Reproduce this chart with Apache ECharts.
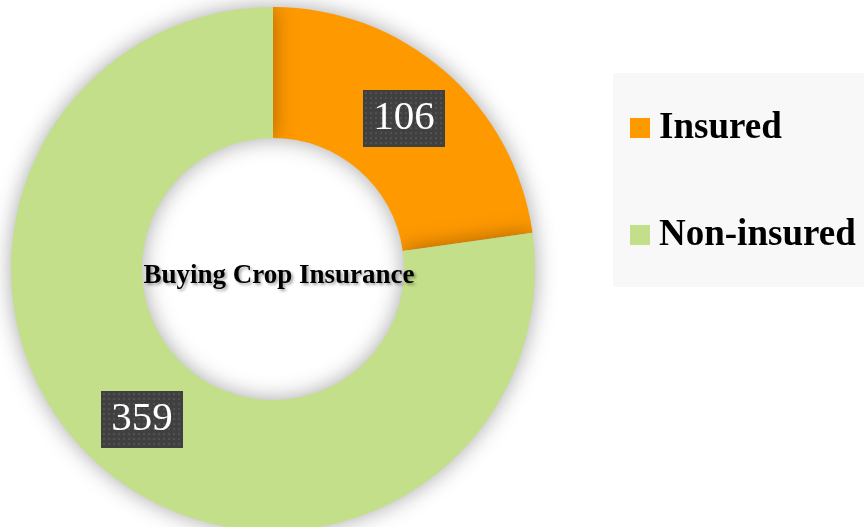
<!DOCTYPE html>
<html>
<head>
<meta charset="utf-8">
<script src="https://cdn.jsdelivr.net/npm/echarts@6/dist/echarts.min.js"></script>
<style>
  html, body { margin: 0; padding: 0; background: #fff; }
  #chart { width: 864px; height: 527px; }
</style>
</head>
<body>
<div id="chart"></div>
<script>
  var categories = ['Insured', 'Non-insured'];
  var counts = [106, 359];
  var colors = ['#FF9900', '#C3DF8A'];
  var centerTitle = 'Buying Crop Insurance';

  // dotted dark tile used behind the value labels
  function dotTile(w, h) {
    var c = document.createElement('canvas');
    c.width = w;
    c.height = h;
    var ctx = c.getContext('2d');
    ctx.fillStyle = '#404040';
    ctx.fillRect(0, 0, w, h);
    ctx.fillStyle = '#525252';
    for (var y = 2; y < h; y += 5) {
      for (var x = 2; x < w; x += 5) {
        ctx.fillRect(x, y, 2, 2);
      }
    }
    return c;
  }

  var tile = dotTile(82, 57);

  var pieData = [];
  for (var i = 0; i < categories.length; i++) {
    pieData.push({
      name: categories[i],
      value: counts[i],
      itemStyle: { color: colors[i] }
    });
  }

  var chart = echarts.init(document.getElementById('chart'));
  chart.setOption({
    animation: false,
    backgroundColor: '#ffffff',
    title: {
      text: centerTitle,
      left: 274,
      top: 271,
      textAlign: 'center',
      textVerticalAlign: 'middle',
      textStyle: {
        fontFamily: 'Liberation Serif',
        fontWeight: 'bold',
        fontSize: 27,
        color: '#000',
        textShadowColor: 'rgba(0,0,0,0.35)',
        textShadowBlur: 3,
        textShadowOffsetX: 2,
        textShadowOffsetY: 2
      }
    },
    legend: {
      orient: 'vertical',
      left: 613,
      top: 73,
      backgroundColor: '#f8f8f8',
      padding: [35, 10, 32, 17],
      icon: 'rect',
      itemWidth: 20,
      itemHeight: 20,
      itemGap: 67,
      selectedMode: false,
      textStyle: {
        fontFamily: 'Liberation Serif',
        fontWeight: 'bold',
        fontSize: 37,
        lineHeight: 40,
        color: '#000',
        padding: [0, 0, 0, 4]
      },
      data: categories
    },
    series: [{
      type: 'pie',
      center: [273, 269],
      radius: [131, 262],
      startAngle: 90,
      clockwise: true,
      avoidLabelOverlap: false,
      emphasis: { disabled: true },
      itemStyle: {
        shadowBlur: 22,
        shadowColor: 'rgba(0,0,0,0.35)',
        shadowOffsetX: 0,
        shadowOffsetY: 0
      },
      label: {
        show: true,
        position: 'inside',
        formatter: '{c}',
        fontFamily: 'Liberation Serif',
        fontSize: 41,
        color: '#fff',
        width: 82,
        height: 57,
        lineHeight: 57,
        align: 'center',
        verticalAlign: 'middle',
        backgroundColor: { image: tile },
        shadowColor: 'rgba(0,0,0,0.55)',
        shadowBlur: 7,
        shadowOffsetX: 4,
        shadowOffsetY: 4
      },
      labelLine: { show: false },
      data: pieData
    }]
  });
</script>
</body>
</html>
